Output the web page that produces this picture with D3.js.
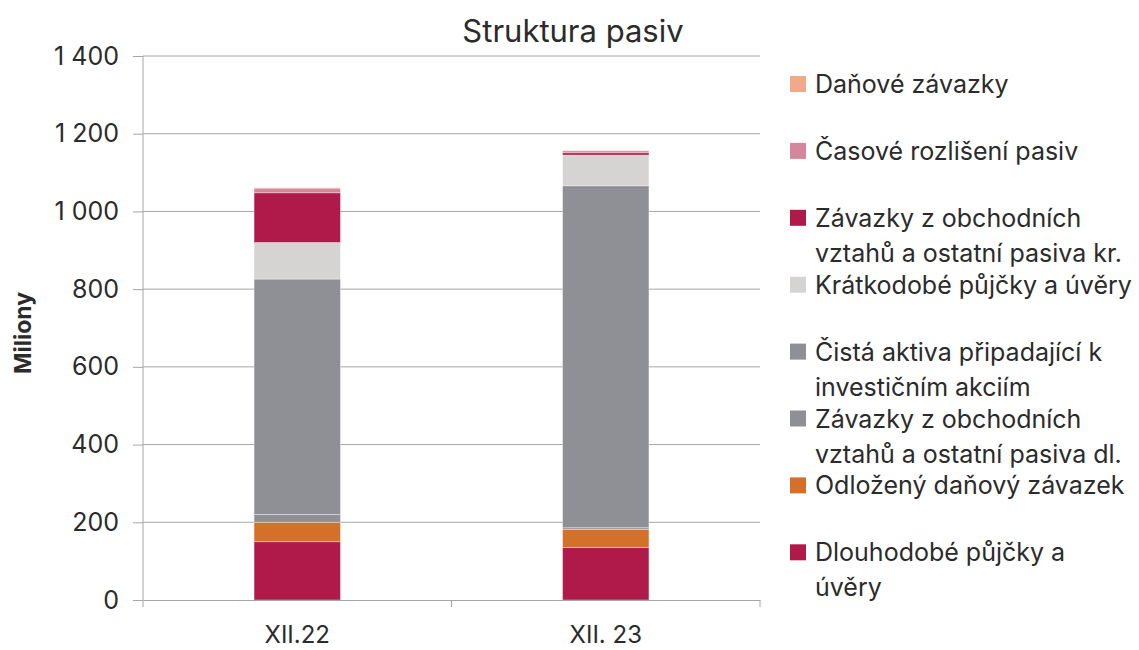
<!DOCTYPE html>
<html>
<head>
<meta charset="utf-8">
<script src="https://cdnjs.cloudflare.com/ajax/libs/d3/7.8.5/d3.min.js"></script>
<style>
  body { margin: 0; background: #fff; }
  text { font-family: Inter, "Open Sans", sans-serif; fill: #2b2b2b; }
</style>
</head>
<body>
<div id="chart"></div>
<script>
// categories (x axis)
var categories = ["XII.22", "XII. 23"];

// series, bottom of the stack first
var seriesNames = [
  "Dlouhodobé půjčky a|úvěry",
  "Odložený daňový závazek",
  "Závazky z obchodních|vztahů a ostatní pasiva dl.",
  "Čistá aktiva připadající k|investičním akciím",
  "Krátkodobé půjčky a úvěry",
  "Závazky z obchodních|vztahů a ostatní pasiva kr.",
  "Časové rozlišení pasiv",
  "Daňové závazky"
];
var seriesColors = ["#B01A4B", "#D4702A", "#8F8F96", "#8F8F96", "#D5D4D2", "#B01A4B", "#D6869A", "#F2A98A"];

// values in millions
var dlouhodobe   = [150, 135];
var odlozeny     = [50, 47];
var zavazkyDl    = [20, 4];
var cistaAktiva  = [606, 880];
var kratkodobe   = [94, 79];
var zavazkyKr    = [128, 6];
var casove       = [12, 5];
var danove       = [1, 1];

var yTicks = [0, 200, 400, 600, 800, 1000, 1200, 1400];

var allSeries = [dlouhodobe, odlozeny, zavazkyDl, cistaAktiva, kratkodobe, zavazkyKr, casove, danove];

var rows = categories.map(function(c, i) {
  var r = {cat: c};
  allSeries.forEach(function(s, k) { r["s" + k] = s[i]; });
  return r;
});
var keys = allSeries.map(function(s, k) { return "s" + k; });

var W = 1139, H = 650;
var margin = {top: 56, left: 143, right: 379, bottom: 50};
var width = W - margin.left - margin.right;   // 617
var height = 600 - margin.top;

var svg = d3.select("#chart").append("svg")
    .attr("width", W)
    .attr("height", H);

var g = svg.append("g")
    .attr("transform", "translate(" + margin.left + "," + margin.top + ")");

var x = d3.scaleBand().domain(categories).range([0, width]).paddingInner(0.72).paddingOuter(0.36);
var y = d3.scaleLinear().domain([0, 1400]).range([height, 0]);

// gridlines
g.append("g").selectAll("line")
  .data(yTicks.slice(1))
  .enter().append("line")
    .attr("x1", 0).attr("x2", width)
    .attr("y1", function(d) { return y(d); })
    .attr("y2", function(d) { return y(d); })
    .attr("stroke", "#A6A6A6")
    .attr("stroke-width", 1);

// stacked bars
var stacked = d3.stack().keys(keys)(rows);
g.append("g").selectAll("g")
  .data(stacked)
  .enter().append("g")
    .attr("fill", function(d, i) { return seriesColors[i]; })
  .selectAll("rect")
  .data(function(d) { return d; })
  .enter().append("rect")
    .attr("x", function(d) { return x(d.data.cat); })
    .attr("width", x.bandwidth())
    .attr("y", function(d) { return y(d[1]); })
    .attr("height", function(d) { return y(d[0]) - y(d[1]); })
    .attr("stroke", "rgba(255,255,255,0.45)")
    .attr("stroke-width", 0.8);

// y axis
var yAxis = g.append("g")
    .call(d3.axisLeft(y).tickValues(yTicks).tickSize(10).tickPadding(14)
      .tickFormat(function(d) { return d >= 1000 ? d3.format(",")(d).replace(",", " ") : d; }));
yAxis.select(".domain").attr("stroke", "#A6A6A6").attr("d", "M0," + height + "V0");
yAxis.selectAll(".tick line").attr("stroke", "#A6A6A6");
yAxis.selectAll("text").style("font-size", "25px").attr("fill", "#2b2b2b");

// x axis
var xAxis = g.append("g")
    .attr("transform", "translate(0," + height + ")")
    .call(d3.axisBottom(x).tickSize(0).tickPadding(26));
xAxis.select(".domain").attr("stroke", "#A6A6A6");
xAxis.selectAll("text").style("font-size", "24px").attr("fill", "#2b2b2b");
xAxis.append("g").selectAll("line")
  .data([0, width / 2, width])
  .enter().append("line")
    .attr("x1", function(d) { return d; }).attr("x2", function(d) { return d; })
    .attr("y1", 0).attr("y2", 7)
    .attr("stroke", "#A6A6A6");

// y title
svg.append("text")
    .attr("transform", "translate(31,333) rotate(-90)")
    .attr("text-anchor", "middle")
    .style("font-size", "23px")
    .style("font-weight", "bold")
    .text("Miliony");

// title
svg.append("text")
    .attr("x", 573).attr("y", 42)
    .attr("text-anchor", "middle")
    .style("font-size", "31px")
    .text("Struktura pasiv");

// legend, top of the stack first
var legendItems = seriesNames.map(function(n, i) { return {name: n, color: seriesColors[i]}; }).reverse();
var legend = svg.append("g").selectAll("g")
  .data(legendItems)
  .enter().append("g")
    .attr("transform", function(d, i) { return "translate(790," + (84 + i * 66.9) + ")"; });
legend.append("rect")
    .attr("x", 0).attr("y", -8)
    .attr("width", 16).attr("height", 16)
    .attr("fill", function(d) { return d.color; });
legend.append("text")
    .attr("x", 25).attr("y", 9)
    .style("font-size", "25px")
    .each(function(d) {
      var t = d3.select(this);
      d.name.split("|").forEach(function(line, j) {
        t.append("tspan").attr("x", 25).attr("dy", j === 0 ? 0 : 35).text(line);
      });
    });
</script>
</body>
</html>
